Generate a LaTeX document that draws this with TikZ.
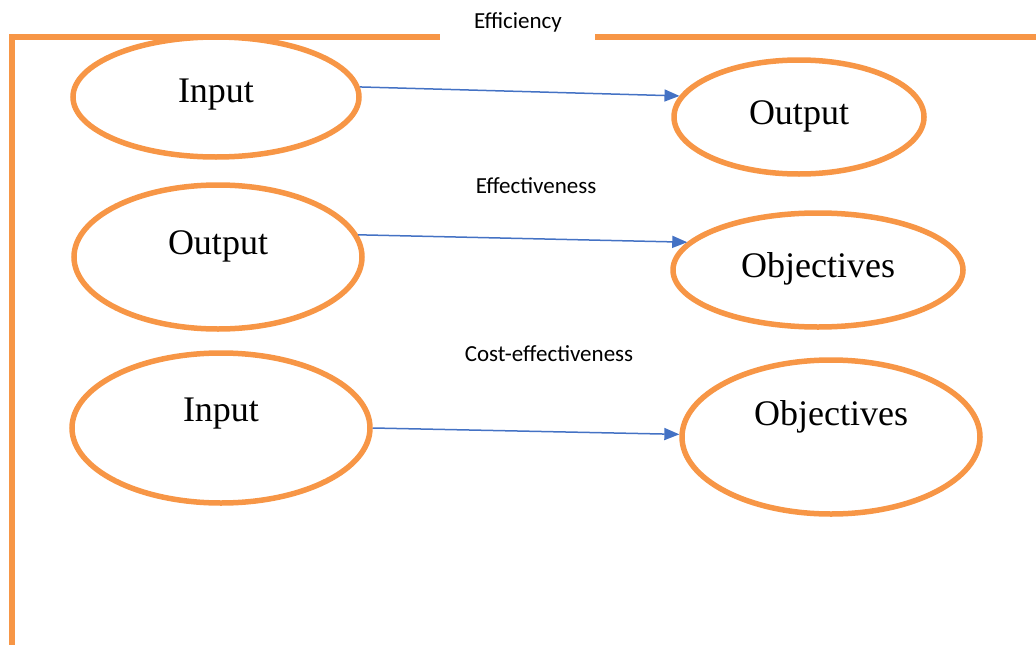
\documentclass[tikz,border=0pt]{standalone}
\usepackage{fontspec}
\setmainfont{Liberation Serif}
\newfontfamily\calib{Carlito}
\usetikzlibrary{shapes.geometric,arrows.meta}
\definecolor{orng}{HTML}{F79646}
\definecolor{blu}{HTML}{4472C4}
\tikzset{
  oval/.style={ellipse, draw=orng, line width=5.5pt, inner sep=0pt},
  bigtxt/.style={font=\fontsize{36}{40}\selectfont, anchor=base},
  smalltxt/.style={font=\calib\fontsize{23}{26}\selectfont, inner sep=0pt},
  conn/.style={draw=blu, line width=1.5pt, -{Triangle[length=15pt,width=12pt]}},
  frame/.style={draw=orng, line width=5.5pt}
}
\begin{document}
\begin{tikzpicture}[x=1pt,y=-1pt]
\useasboundingbox (0,0) rectangle (1036,645);
% frame
\node[smalltxt] (eff) at (518,22) {Efficiency};
\coordinate (c0) at (12,645);
\coordinate (c1) at (12,37);
\coordinate (c2) at (440,37);
\coordinate (c3) at (595,37);
\coordinate (c4) at (1040,37);
\draw[frame] (c0) -- (c1) -- (c2);
\draw[frame] (c3) -- (c4);
% ellipses
\node[oval, minimum width=286pt, minimum height=120pt,
  label={[bigtxt,yshift=2pt]center:Input}] (in1) at (216,97) {};
\node[oval, minimum width=250pt, minimum height=114pt,
  label={[bigtxt,yshift=1pt]center:Output}] (out1) at (799,117) {};
\node[oval, minimum width=288pt, minimum height=144pt,
  label={[bigtxt,yshift=11pt]center:Output}] (out2) at (218,257) {};
\node[oval, minimum width=290pt, minimum height=114pt,
  label={[bigtxt,yshift=1pt]center:Objectives}] (obj1) at (818,270) {};
\node[oval, minimum width=298pt, minimum height=150pt,
  label={[bigtxt,yshift=14pt]center:Input}] (in2) at (221,428) {};
\node[oval, minimum width=298pt, minimum height=154pt,
  label={[bigtxt,yshift=20pt]center:Objectives}] (obj2) at (831,437) {};
% labels
\node[smalltxt] (l2) at (536,186) {Effectiveness};
\node[smalltxt] (l3) at (549,354) {Cost-effectiveness};
% connectors
\draw[conn] (in1.4.4) -- (out1.170);
\draw[conn] (out2.9.8) -- (obj1.168.4);
\draw[conn] (in2.0.8) -- (obj2.179.6);
\end{tikzpicture}
\end{document}
